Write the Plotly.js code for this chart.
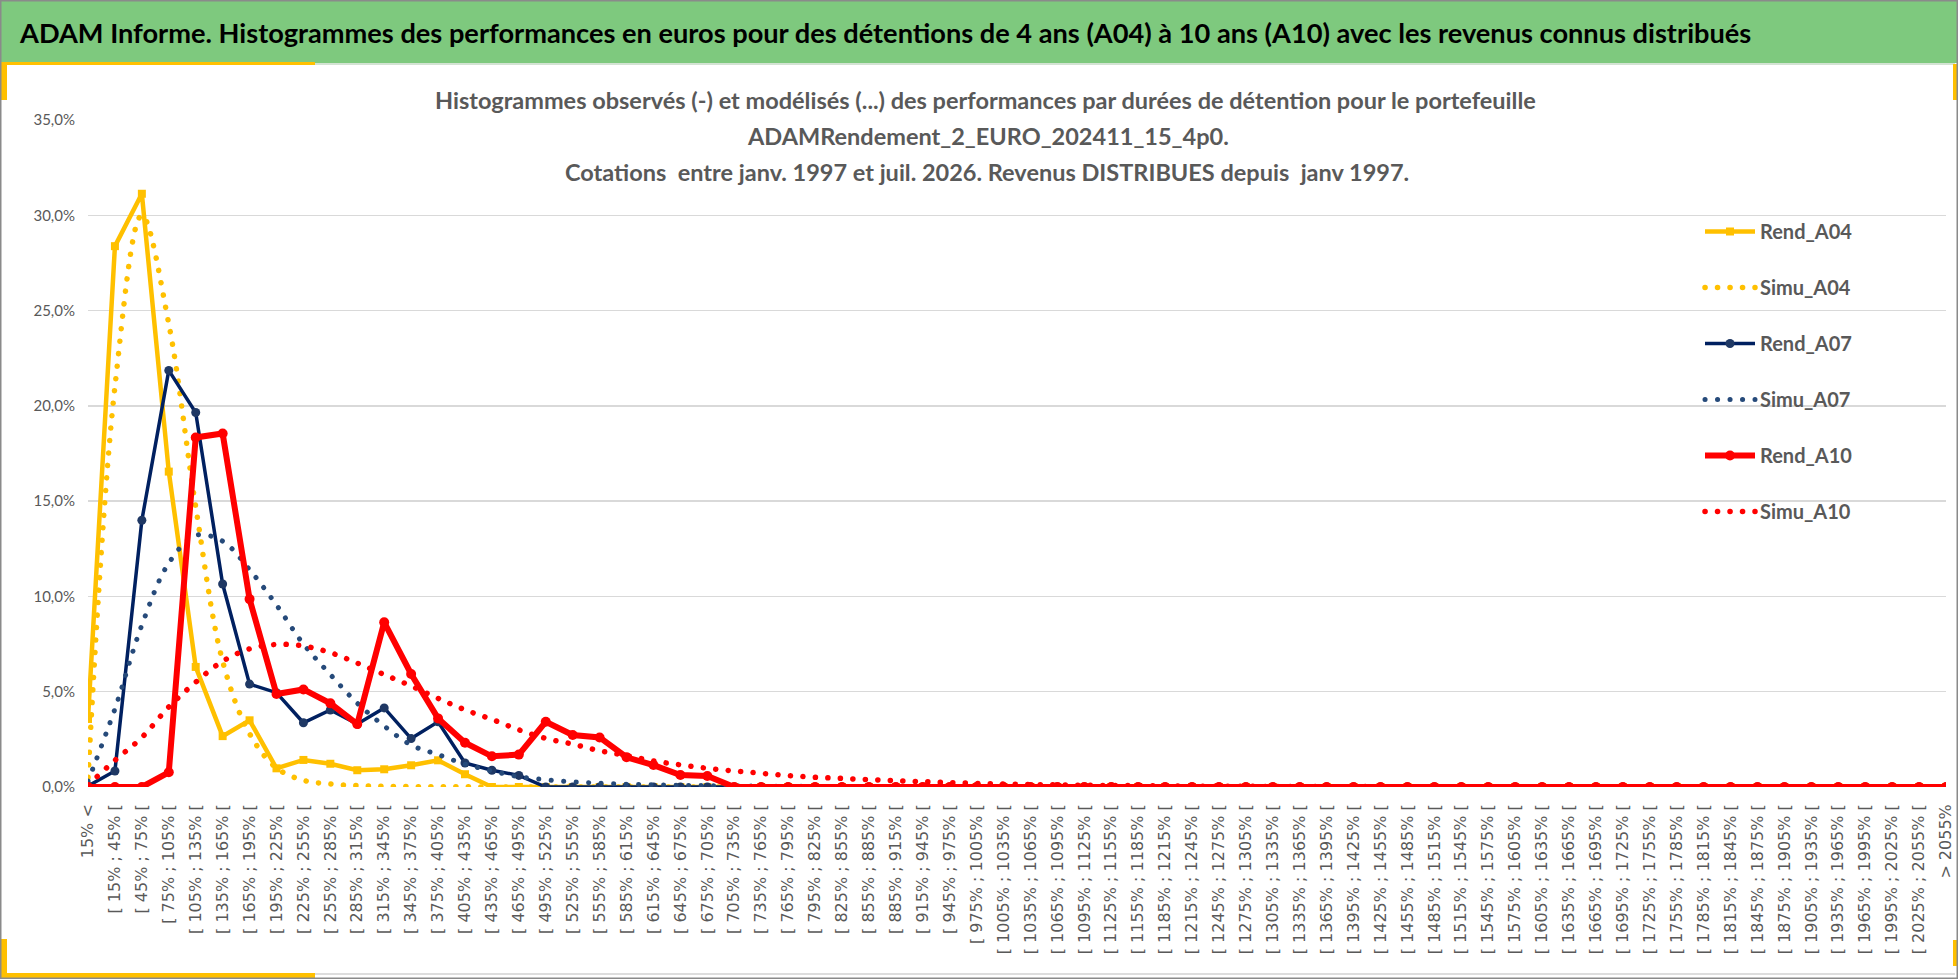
<!DOCTYPE html>
<html>
<head>
<meta charset="utf-8">
<script src="https://cdn.plot.ly/plotly-3.0.1.min.js"></script>
<style>
  html, body { margin: 0; padding: 0; background: #ffffff; }
  #chart { width: 1958px; height: 979px; }
</style>
</head>
<body>
<div id="chart"></div>
<script>
// ---- Categories (tick labels) ----
const categories = [
  "15% <",
  "[ 15% ; 45% [", "[ 45% ; 75% [", "[ 75% ; 105% [", "[ 105% ; 135% [", "[ 135% ; 165% [",
  "[ 165% ; 195% [", "[ 195% ; 225% [", "[ 225% ; 255% [", "[ 255% ; 285% [", "[ 285% ; 315% [",
  "[ 315% ; 345% [", "[ 345% ; 375% [", "[ 375% ; 405% [", "[ 405% ; 435% [", "[ 435% ; 465% [",
  "[ 465% ; 495% [", "[ 495% ; 525% [", "[ 525% ; 555% [", "[ 555% ; 585% [", "[ 585% ; 615% [",
  "[ 615% ; 645% [", "[ 645% ; 675% [", "[ 675% ; 705% [", "[ 705% ; 735% [", "[ 735% ; 765% [",
  "[ 765% ; 795% [", "[ 795% ; 825% [", "[ 825% ; 855% [", "[ 855% ; 885% [", "[ 885% ; 915% [",
  "[ 915% ; 945% [", "[ 945% ; 975% [", "[ 975% ; 1005% [", "[ 1005% ; 1035% [", "[ 1035% ; 1065% [",
  "[ 1065% ; 1095% [", "[ 1095% ; 1125% [", "[ 1125% ; 1155% [", "[ 1155% ; 1185% [", "[ 1185% ; 1215% [",
  "[ 1215% ; 1245% [", "[ 1245% ; 1275% [", "[ 1275% ; 1305% [", "[ 1305% ; 1335% [", "[ 1335% ; 1365% [",
  "[ 1365% ; 1395% [", "[ 1395% ; 1425% [", "[ 1425% ; 1455% [", "[ 1455% ; 1485% [", "[ 1485% ; 1515% [",
  "[ 1515% ; 1545% [", "[ 1545% ; 1575% [", "[ 1575% ; 1605% [", "[ 1605% ; 1635% [", "[ 1635% ; 1665% [",
  "[ 1665% ; 1695% [", "[ 1695% ; 1725% [", "[ 1725% ; 1755% [", "[ 1755% ; 1785% [", "[ 1785% ; 1815% [",
  "[ 1815% ; 1845% [", "[ 1845% ; 1875% [", "[ 1875% ; 1905% [", "[ 1905% ; 1935% [", "[ 1935% ; 1965% [",
  "[ 1965% ; 1995% [", "[ 1995% ; 2025% [", "[ 2025% ; 2055% [",
  "> 2055%"
];

// ---- Series values (in %) ----
const rend_A04 = [3.57, 28.38, 31.13, 16.55, 6.3, 2.67, 3.5, 0.98, 1.42, 1.22,
  0.88, 0.93, 1.14, 1.4, 0.67, 0, 0, 0, 0, 0,
  0, 0, 0, 0, 0, 0, 0, 0, 0, 0,
  0, 0, 0, 0, 0, 0, 0, 0, 0, 0,
  0, 0, 0, 0, 0, 0, 0, 0, 0, 0,
  0, 0, 0, 0, 0, 0, 0, 0, 0, 0,
  0, 0, 0, 0, 0, 0, 0, 0, 0, 0];

const simu_A04 = [0.5, 21.0, 30.0, 24.3, 14.7, 6.6, 2.8, 1.0, 0.35, 0.16,
  0.07, 0.03, 0.02, 0.01, 0.01, 0, 0, 0, 0, 0,
  0, 0, 0, 0, 0, 0, 0, 0, 0, 0,
  0, 0, 0, 0, 0, 0, 0, 0, 0, 0,
  0, 0, 0, 0, 0, 0, 0, 0, 0, 0,
  0, 0, 0, 0, 0, 0, 0, 0, 0, 0,
  0, 0, 0, 0, 0, 0, 0, 0, 0, 0];

const rend_A07 = [0.05, 0.84, 14.0, 21.86, 19.65, 10.65, 5.4, 4.95, 3.37, 4.04,
  3.3, 4.15, 2.54, 3.42, 1.26, 0.88, 0.61, 0, 0, 0,
  0, 0, 0, 0, 0, 0, 0, 0, 0, 0,
  0, 0, 0, 0, 0, 0, 0, 0, 0, 0,
  0, 0, 0, 0, 0, 0, 0, 0, 0, 0,
  0, 0, 0, 0, 0, 0, 0, 0, 0, 0,
  0, 0, 0, 0, 0, 0, 0, 0, 0, 0];

const simu_A07 = [0.3, 4.1, 8.5, 11.75, 13.2, 12.9, 11.4, 9.55, 7.5, 5.9,
  4.4, 3.2, 2.2, 1.7, 1.2, 0.84, 0.54, 0.38, 0.27, 0.2,
  0.15, 0.12, 0.09, 0.07, 0.06, 0.05, 0.04, 0.03, 0.03, 0.02,
  0.02, 0.01, 0.01, 0.01, 0, 0, 0, 0, 0, 0,
  0, 0, 0, 0, 0, 0, 0, 0, 0, 0,
  0, 0, 0, 0, 0, 0, 0, 0, 0, 0,
  0, 0, 0, 0, 0, 0, 0, 0, 0, 0];

const rend_A10 = [0, 0, 0, 0.77, 18.34, 18.55, 9.86, 4.88, 5.12, 4.39,
  3.3, 8.64, 5.93, 3.6, 2.32, 1.61, 1.7, 3.42, 2.73, 2.6,
  1.56, 1.15, 0.63, 0.58, 0, 0, 0, 0, 0, 0,
  0, 0, 0, 0, 0, 0, 0, 0, 0, 0,
  0, 0, 0, 0, 0, 0, 0, 0, 0, 0,
  0, 0, 0, 0, 0, 0, 0, 0, 0, 0,
  0, 0, 0, 0, 0, 0, 0, 0, 0, 0];

const simu_A10 = [0.1, 1.4, 2.6, 4.2, 5.5, 6.6, 7.25, 7.48, 7.4, 7.05,
  6.5, 5.9, 5.3, 4.65, 4.05, 3.55, 3.0, 2.55, 2.25, 1.9,
  1.65, 1.37, 1.16, 0.98, 0.84, 0.72, 0.6, 0.51, 0.45, 0.39,
  0.33, 0.28, 0.23, 0.19, 0.16, 0.13, 0.11, 0.09, 0.08, 0.07,
  0.06, 0.05, 0.04, 0.04, 0.03, 0.03, 0.02, 0.02, 0.02, 0.01,
  0.01, 0.01, 0.01, 0, 0, 0, 0, 0, 0, 0,
  0, 0, 0, 0, 0, 0, 0, 0, 0, 0];

// ---- Texts ----
const bannerTitle = "ADAM Informe. Histogrammes des performances en euros pour des détentions de 4 ans (A04) à 10 ans (A10) avec les revenus connus distribués";
const chartTitleLines = [
  "Histogrammes observés (-) et modélisés (...) des performances par durées de détention pour le portefeuille",
  "ADAMRendement_2_EURO_202411_15_4p0.",
  "Cotations\u00a0 entre janv. 1997 et juil. 2026. Revenus DISTRIBUES depuis\u00a0 janv 1997."
];
const yTickVals = [0, 5, 10, 15, 20, 25, 30, 35];
const yTickText = ["0,0%", "5,0%", "10,0%", "15,0%", "20,0%", "25,0%", "30,0%", "35,0%"];

// ---- Geometry helpers (pixel -> paper) ----
const W = 1958, H = 979;
const M = { l: 88, r: 12, t: 120, b: 192 };
const PW = W - M.l - M.r, PH = H - M.t - M.b;
const px = v => (v - M.l) / PW;
const py = v => (H - M.b - v) / PH;

const gridIdx = [];
for (let i = 0; i < categories.length - 1; i += 2) gridIdx.push(i);

const YEL = "#FFC000", NAVY = "#002060", NAVYM = "#1F3864", SLATE = "#264A7A", RED = "#FF0000";
const DOT = "4px,8.5px";

const traces = [
  { name: "Rend_A04", x: categories, y: rend_A04, xaxis: "x2", type: "scatter", mode: "lines+markers",
    line: { color: YEL, width: 4.5 }, marker: { symbol: "square", size: 8, color: YEL },
    legendgroup: "g1" },
  { name: "Simu_A04", x: categories, y: simu_A04, xaxis: "x2", type: "scatter", mode: "lines",
    line: { color: YEL, width: 5.5, dash: DOT, shape: "spline", smoothing: 1 },
    legendgroup: "g2" },
  { name: "Rend_A07", x: categories, y: rend_A07, xaxis: "x2", type: "scatter", mode: "lines+markers",
    line: { color: NAVY, width: 3.5 }, marker: { symbol: "circle", size: 9, color: NAVYM },
    legendgroup: "g3" },
  { name: "Simu_A07", x: categories, y: simu_A07, xaxis: "x2", type: "scatter", mode: "lines",
    line: { color: SLATE, width: 5, dash: DOT, shape: "spline", smoothing: 1 },
    legendgroup: "g4" },
  { name: "Rend_A10", x: categories, y: rend_A10, xaxis: "x2", type: "scatter", mode: "lines+markers",
    line: { color: RED, width: 6 }, marker: { symbol: "circle", size: 10, color: RED },
    legendgroup: "g5" },
  { name: "Simu_A10", x: categories, y: simu_A10, xaxis: "x2", type: "scatter", mode: "lines",
    line: { color: RED, width: 5.5, dash: DOT, shape: "spline", smoothing: 1 },
    legendgroup: "g6" }
];

const GRID = "#d9d9d9";
const shapes = [
  // green banner
  { type: "rect", xref: "paper", yref: "paper", x0: px(0), x1: px(W), y0: py(63), y1: py(0),
    fillcolor: "#7EC97E", line: { width: 0 }, layer: "below" },
  // faint line under banner
  { type: "line", xref: "paper", yref: "paper", x0: px(315), x1: px(1955), y0: py(64), y1: py(64),
    line: { color: "#d3e3d3", width: 2 }, layer: "below" },
  // bottom faint line
  { type: "line", xref: "paper", yref: "paper", x0: px(315), x1: px(1955), y0: py(974), y1: py(974),
    line: { color: "#dddddd", width: 2 }, layer: "below" },
  // title white box (hides gridlines)
  { type: "rect", xref: "paper", yref: "paper", x0: px(422), x1: px(1548), y0: py(190), y1: py(120),
    fillcolor: "#ffffff", line: { width: 0 }, layer: "between" },
  // legend white box
  { type: "rect", xref: "paper", yref: "paper", x0: px(1657), x1: px(1910), y0: py(538), y1: py(203),
    fillcolor: "#ffffff", line: { width: 0 }, layer: "between" },
  // yellow accents
  { type: "rect", xref: "paper", yref: "paper", x0: px(1), x1: px(315), y0: py(65), y1: py(62),
    fillcolor: YEL, line: { width: 0 }, layer: "above" },
  { type: "rect", xref: "paper", yref: "paper", x0: px(1), x1: px(7), y0: py(100), y1: py(62),
    fillcolor: YEL, line: { width: 0 }, layer: "above" },
  { type: "rect", xref: "paper", yref: "paper", x0: px(1), x1: px(7), y0: py(978), y1: py(939),
    fillcolor: YEL, line: { width: 0 }, layer: "above" },
  { type: "rect", xref: "paper", yref: "paper", x0: px(1), x1: px(315), y0: py(978), y1: py(973),
    fillcolor: YEL, line: { width: 0 }, layer: "above" },
  { type: "rect", xref: "paper", yref: "paper", x0: px(1953), x1: px(1957), y0: py(100), y1: py(64),
    fillcolor: YEL, line: { width: 0 }, layer: "above" },
  { type: "rect", xref: "paper", yref: "paper", x0: px(1953), x1: px(1957), y0: py(966), y1: py(940),
    fillcolor: YEL, line: { width: 0 }, layer: "above" },
  // outer border
  { type: "rect", xref: "paper", yref: "paper", x0: px(0.75), x1: px(W - 0.75), y0: py(H - 0.75), y1: py(0.75),
    fillcolor: "rgba(0,0,0,0)", line: { color: "#8a8a8a", width: 1.5 }, layer: "above" }
];

const titleFont = { family: "Lato, 'Open Sans', sans-serif", size: 23.5, color: "#595959", weight: 700 };
const annotations = [
  { text: "<b>" + bannerTitle + "</b>", xref: "paper", yref: "paper", x: px(17), y: py(32),
    xanchor: "left", yanchor: "middle", showarrow: false,
    font: { family: "Lato, 'Open Sans', sans-serif", size: 27.2, color: "#000000" } },
  { text: "<b>" + chartTitleLines[0] + "</b>", xref: "paper", yref: "paper", x: px(985), y: py(100),
    xanchor: "center", yanchor: "middle", showarrow: false, font: titleFont },
  { text: "<b>" + chartTitleLines[1] + "</b>", xref: "paper", yref: "paper", x: px(988), y: py(136),
    xanchor: "center", yanchor: "middle", showarrow: false, font: titleFont },
  { text: "<b>" + chartTitleLines[2] + "</b>", xref: "paper", yref: "paper", x: px(987), y: py(172),
    xanchor: "center", yanchor: "middle", showarrow: false, font: titleFont }
];

const layout = {
  width: W, height: H,
  margin: M,
  paper_bgcolor: "#ffffff", plot_bgcolor: "#ffffff",
  separators: ", ",
  showlegend: true,
  legend: {
    x: px(1700), y: py(212), xanchor: "left", yanchor: "top",
    bgcolor: "rgba(0,0,0,0)", borderwidth: 0,
    traceorder: "grouped", tracegroupgap: 27, itemwidth: 50,
    font: { family: "Lato, 'Open Sans', sans-serif", size: 20, color: "#595959", weight: 700 }
  },
  // base axis: carries the vertical gridlines (every second class)
  xaxis: {
    type: "linear", range: [0, categories.length - 1], fixedrange: true,
    tickmode: "array", tickvals: gridIdx, showticklabels: false, ticks: "",
    showgrid: true, gridcolor: GRID, gridwidth: 1.3, zeroline: false, showline: false
  },
  // overlay axis: categories and their labels, used by the traces
  xaxis2: {
    type: "category", overlaying: "x", anchor: "y", side: "bottom",
    range: [0, categories.length - 1], fixedrange: true,
    showgrid: false, zeroline: false, showline: false,
    tickmode: "array", tickvals: categories, ticktext: categories,
    tickangle: -90, ticks: "", ticklabelstandoff: 13,
    tickfont: { family: "'DejaVu Sans', sans-serif", size: 16, color: "#595959" }
  },
  yaxis: {
    range: [0, 35], tickmode: "array", tickvals: yTickVals, ticktext: yTickText,
    showgrid: true, gridcolor: GRID, gridwidth: 1.3, zeroline: false, showline: false,
    ticks: "", ticklabelstandoff: 12,
    tickfont: { family: "Lato, 'Open Sans', sans-serif", size: 15, color: "#595959" }
  },
  shapes: shapes,
  annotations: annotations
};

Plotly.newPlot("chart", traces, layout, { staticPlot: true, displayModeBar: false }).then(function (gd) {
  // round dotted lines like the original
  gd.querySelectorAll("path.js-line").forEach(function (p) {
    const da = p.style.strokeDasharray;
    if (da && da !== "none" && da !== "") {
      p.style.strokeLinecap = "round";
      p.style.strokeDasharray = "0.1px,12.4px";
    }
  });
});
</script>
</body>
</html>
